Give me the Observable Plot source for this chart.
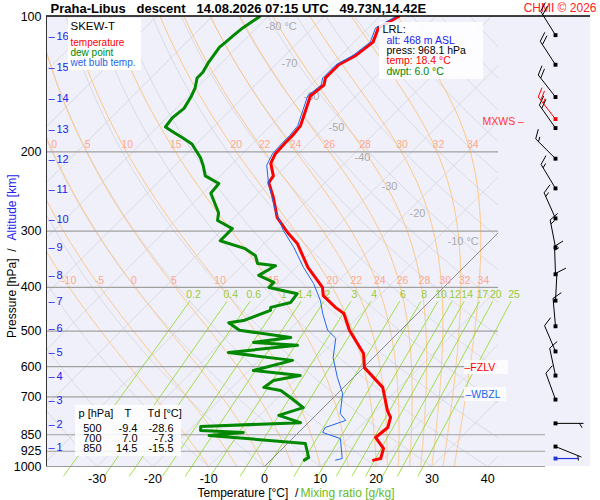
<!DOCTYPE html>
<html><head><meta charset="utf-8">
<script src="https://cdn.jsdelivr.net/npm/d3@7"></script>
<script src="https://cdn.jsdelivr.net/npm/@observablehq/plot@0.6"></script>
<style>body{margin:0;background:#fff}svg{font-family:"Liberation Sans",Arial,sans-serif}</style>
</head><body><div id="c"></div>
<script>
// ---- data ----
const tempP = [100,106,114,122,128,137,142,150,162,175,184,191,202,212,226,234,252,280,302,320,361,400,417,443,457,498,561,603,667,751,778,819,862,912,960,968];
const tempT = [-56.6,-58.2,-56.6,-57.3,-58.7,-58.7,-57.7,-58.2,-56.4,-54.6,-54.3,-54.3,-54.1,-53.2,-50.5,-50.1,-46.7,-42.3,-37.8,-34.0,-27.9,-21.7,-20.1,-15.8,-13.2,-9.2,-2.5,0.2,7.0,12.0,13.8,15.1,14.7,18.1,19.4,18.4];
const wbP = [100,106,114,122,128,137,142,150,162,175,184,191,202,214,235,270,299,326,361,392,428,457,498,519,573,634,688,763,790,819,840,867,960,968];
const wbT = [-57.1,-58.7,-57.1,-57.8,-59.2,-59.2,-58.2,-58.7,-56.9,-55.1,-54.8,-54.8,-54.6,-53.6,-50.0,-43.9,-38.9,-34.0,-28.7,-24.0,-19.7,-17.0,-13.1,-10.2,-7.2,-2.9,0.9,4.1,6.3,3.9,4.3,8.6,12.5,11.6];
const dewP = [100,103,106,110,114,117,122,127,133,137,144,151,160,168,176,181,186,192,206,214,226,235,247,273,284,296,315,328,340,354,358,376,390,400,413,432,443,450,474,479,498,517,530,538,558,581,612,628,644,667,678,706,740,770,799,815,832,840,853,889,955,968];
const dewT = [-81.5,-82.0,-82.5,-82.8,-83.0,-83.2,-82.8,-82.4,-81.7,-81.7,-80.3,-79.4,-78.6,-79.0,-78.6,-76.1,-73.6,-70.8,-66.8,-65.0,-62.7,-58.9,-58.6,-53.7,-52.5,-48.4,-48.4,-42.5,-39.4,-37.6,-34.0,-35.3,-31.3,-31.3,-25.1,-24.7,-27.4,-26.9,-29.9,-32.2,-28.9,-18.4,-24.2,-15.8,-26.9,-14.0,-19.2,-9.9,-13.8,-14.3,-10.7,-7.3,-3.6,-6.6,-1.4,-18.6,-17.9,-9.9,-15.5,3.2,6.3,6.0];
const windP = [110,128,151,177,207,241,281,326,374,428,488,555,628,710,802,903];
const windDir = [328,327,322,325,315,329,336,349,358,3,355,337,348,340,90,112];
const windSpd = [20,20,20,20,15,15,15,15,15,10,10,10,10,10,5,5];
const maxWind = {p:169, dir:322, spd:25};
const sfcWind = {p:960, dir:90, spd:0};
const pTicks = [100,200,300,400,500,600,700,850,925,1000];
const tTicks = [-30,-20,-10,0,10,20,30,40];
const kmLabels = [1,2,3,4,5,6,7,8,9,10,11,12,13,14,15,16];
const kmP = [907,807,713,631,558,494,430,376,326,283,242,208,178,152,130,111];
const mixRatios = [0.2,0.4,0.6,1,1.4,2,3,4,6,8,10,12,14,17,20,25];
const thetaW = [-10,-5,0,5,10,15,20,22,24,26,28,30,32,34];
const thetaWTop = [0,5,10,15,20,22,24,26,28,30,32,34];
const isoLabels = ["-80 °C","-70","-60","-50","-40","-30","-20","-10 °C"];
const tableRows = [["500","-9.4","-28.6"],["700","7.0","-7.3"],["850","14.5","-15.5"]];

// ---- geometry helpers ----
const X0=264, KX=5.58, K=450/5.58;
const skew = (p,t)=> t + K*Math.log10(1000/p);
const pxX = px => (px-X0)/KX;
const pY = py => 1000*Math.pow(10,-(466-py)/450);
const yPx = p => 466-450*Math.log10(1000/p);

const pLevels = d3.range(1050, 99, -5).concat([100]);
const iso = d3.range(-130, 50, 10).flatMap(t => [1050,100].map(p=>({p,x:skew(p,t),id:t})));
const dry = d3.range(-40, 230, 10).flatMap(th => pLevels.map(p=>({p, x:skew(p,(th+273.15)*Math.pow(p/1000,0.286)-273.15), id:th})));
const es = T => 6.112*Math.exp(17.67*(T-273.15)/(T-29.65));
const dTdp=(p,T)=>{const e=es(T), rs=0.622*e/(p-e); return (287*T+2.5e6*rs)/(p*(1005+2.5e6*2.5e6*rs*0.622/(287*T*T)));};
function moist(tw){
  const out=[]; let T=tw+273.15;
  for(let p=1000;p>=100;p-=2){ out.push({p,x:skew(p,T-273.15),id:tw});
    const h=-2, k1=dTdp(p,T), k2=dTdp(p+h/2,T+h/2*k1); T+=h*k2; }
  let T2=tw+273.15;
  for(let p=1000;p<=1050;p+=2){ out.unshift({p,x:skew(p,T2-273.15),id:tw}); T2+=2*dTdp(p,T2); }
  return out;
}
const moistLines = thetaW.flatMap(moist);
const tdOf = (w,p)=>{const e=w*p/(622+w); const l=Math.log(e/6.112); return 243.5*l/(17.67-l);};
const mixLines = mixRatios.flatMap(w => [1050,430].map(p=>({p,x:skew(p,tdOf(w,p)),id:w})));
const moistAt = (tw,p)=>{const c=moistLines.filter(d=>d.id===tw); return c.reduce((a,b)=>Math.abs(b.p-p)<Math.abs(a.p-p)?b:a).x;};
const prof = (P,T)=>P.map((p,i)=>({p,x:skew(p,T[i])}));

function barb(p,dir,spd){
  const bx=555, by=yPx(p), a=dir*Math.PI/180, ux=Math.sin(a), uy=-Math.cos(a), L=28;
  const ex=bx+L*ux, ey=by+L*uy, segs=[[bx,by,ex,ey]];
  const px=-uy, py=ux; let rem=spd, pos=0;
  const bdx=px*0.87+ux*0.5, bdy=py*0.87+uy*0.5;
  while(rem>=10){const sx=ex-ux*pos, sy=ey-uy*pos; segs.push([sx,sy,sx+10*bdx,sy+10*bdy]); rem-=10; pos+=4;}
  if(rem>=5){ if(pos===0) pos=4; const sx=ex-ux*pos, sy=ey-uy*pos; segs.push([sx,sy,sx+5*bdx,sy+5*bdy]); }
  return segs.map(s=>({x1:pxX(s[0]),y1:pY(s[1]),x2:pxX(s[2]),y2:pY(s[3])}));
}
const barbs = windP.flatMap((p,i)=>barb(p,windDir[i],windSpd[i]));
const barbMax = barb(maxWind.p,maxWind.dir,maxWind.spd);
const sfcSeg = [{x1:pxX(555),y1:sfcWind.p,x2:pxX(578),y2:sfcWind.p}];

const F = "Liberation Sans, Arial, sans-serif";
const T = (x,y,text,o={}) => Plot.text([0],{x:()=>pxX(x),y:()=>pY(y),text:()=>text,fontSize:11,fontFamily:F,textAnchor:"start",clip:false,...o});
const box = (x1,y1,x2,y2,o={}) => Plot.rect([0],{x1:()=>pxX(x1),x2:()=>pxX(x2),y1:()=>pY(y1),y2:()=>pY(y2),fill:"white",clip:false,...o});
const isoPx = [[265,26],[281,63],[303,96],[328,127],[354,157],[381,186],[409,213],[447,241]];

const chart = Plot.plot({
  width:600, height:500, marginLeft:46, marginRight:102, marginTop:16, marginBottom:34,
  x:{domain:[pxX(46),pxX(498)], axis:null},
  y:{type:"log", domain:[1000,100], axis:null},
  marks:[
    box(46,16,590,466,{fill:"#f0f0fa"}),
    Plot.line(iso,{x:"x",y:"p",z:"id",stroke:"#d4d4dc",strokeWidth:0.8,clip:true}),
    Plot.line(dry,{x:"x",y:"p",z:"id",stroke:"#d4d4dc",strokeWidth:0.8,clip:true}),
    Plot.line(moistLines,{x:"x",y:"p",z:"id",stroke:"#ffc680",strokeWidth:1,clip:true}),
    Plot.line(mixLines,{x:"x",y:"p",z:"id",stroke:"#99dd33",strokeWidth:0.9,clip:false}),
    Plot.line([{p:1050,x:skew(1050,0)},{p:100,x:skew(100,0)}],{x:"x",y:"p",stroke:"#777",strokeWidth:0.8,clip:true}),
    Plot.ruleY(pTicks.filter(p=>p<850&&p>100),{x1:pxX(46),x2:pxX(498),y:d=>d,stroke:"#a0a0a0",strokeWidth:1.2,clip:false}),
    Plot.ruleY(pTicks.filter(p=>p>=850),{x1:pxX(46),x2:pxX(545),y:d=>d,stroke:"#a0a0a0",strokeWidth:1.2,clip:false}),
    Plot.text(thetaW,{x:d=>moistAt(d,386),y:()=>386,dx:4,text:d=>String(d),fill:"#ffa888",fontSize:10.5,fontFamily:F,clip:false}),
    Plot.text(thetaWTop,{x:d=>moistAt(d,193),y:()=>193,dx:4,text:d=>String(d),fill:"#ffa888",fontSize:10.5,fontFamily:F,clip:false}),
    Plot.text(mixRatios,{x:d=>skew(418,tdOf(d,418)),y:()=>415,text:d=>String(d),fill:"#99cc33",fontSize:10.5,fontFamily:F,clip:false}),
    Plot.text(isoLabels,{x:(d,i)=>pxX(isoPx[i][0]),y:(d,i)=>pY(isoPx[i][1]),text:d=>d,textAnchor:"start",fill:"#aaaaaa",fontSize:11,fontFamily:F,clip:false}),
    Plot.line(prof(dewP,dewT),{x:"x",y:"p",stroke:"#008800",strokeWidth:3,clip:true}),
    Plot.line(prof(tempP,tempT),{x:"x",y:"p",stroke:"#ff0000",strokeWidth:3,clip:true}),
    Plot.line(prof(wbP,wbT),{x:"x",y:"p",stroke:"#2266ee",strokeWidth:1,clip:true}),
    Plot.ruleY([pY(15.5)],{x1:pxX(46),x2:pxX(590),stroke:"black",strokeWidth:1.3,clip:false}),
    Plot.ruleX([pxX(46)],{y1:pY(15.5),y2:1000,stroke:"#333",strokeWidth:1,clip:false}),
    Plot.ruleY([1000],{x1:pxX(46),x2:pxX(498),stroke:"#999",strokeWidth:1.2,clip:false}),
    Plot.text(pTicks,{x:()=>pxX(41),y:d=>d,text:d=>String(d),textAnchor:"end",fontSize:12.5,fontFamily:F,clip:false}),
    Plot.text(tTicks,{x:d=>d,y:()=>pY(478),text:d=>String(d),fontSize:12.5,fontFamily:F,clip:false}),
    Plot.text(kmLabels,{x:()=>pxX(48),y:kmP,text:()=>"\u2013",textAnchor:"start",fill:"#2222ee",fontSize:11,fontFamily:F,clip:false}),
    Plot.text(kmLabels,{x:()=>pxX(56),y:kmP,text:d=>String(d),textAnchor:"start",fill:"#2222ee",fontSize:11,fontFamily:F,clip:false}),
    T(197,493,"Temperature [°C]  /",{fontSize:12}),
    T(300,493,"Mixing ratio [g/kg]",{fontSize:12,fill:"#66bb22"}),
    T(12,248,"Pressure [hPa]  /",{fontSize:12,rotate:-90,textAnchor:"end",lineAnchor:"middle"}),
    T(12,240,"Altitude [km]",{fontSize:12,rotate:-90,textAnchor:"start",lineAnchor:"middle",fill:"#2222ee"}),
    T(50,8,"Praha-Libus   descent   14.08.2026 07:15 UTC   49.73N,14.42E",{fontSize:13,fontWeight:"bold"}),
    T(596,8,"CHMI © 2026",{fontSize:12,fill:"#ff2020",textAnchor:"end"}),
    box(68,18,141,70),
    T(70,26,"SKEW-T",{fontSize:11.5}),
    T(70,42,"temperature",{fill:"#ff0000",fontSize:10}),
    T(70,52,"dew point",{fill:"#008800",fontSize:10}),
    T(70,62,"wet bulb temp.",{fill:"#2266ee",fontSize:10}),
    box(379,22,483,79,{fillOpacity:0.85}),
    T(382,29,"LRL:",{fontSize:11}),
    T(386,40,"alt: 468 m ASL",{fill:"#2222ee",fontSize:10.5}),
    T(386,50,"press: 968.1 hPa",{fontSize:10.5}),
    T(386,60,"temp: 18.4 °C",{fill:"#ff0000",fontSize:10.5}),
    T(386,71,"dwpt: 6.0 °C",{fill:"#008800",fontSize:10.5}),
    box(75,405,181,456,{fillOpacity:0.85}),
    T(78,413,"p [hPa]",{fontSize:11}),T(124,413,"T",{fontSize:11}),T(147,413,"Td [°C]",{fontSize:11}),
    Plot.text(tableRows,{x:()=>pxX(101),y:(d,i)=>pY(428+i*10),text:d=>d[0],textAnchor:"end",fontSize:11,fontFamily:F,clip:false}),
    Plot.text(tableRows,{x:()=>pxX(137),y:(d,i)=>pY(428+i*10),text:d=>d[1],textAnchor:"end",fontSize:11,fontFamily:F,clip:false}),
    Plot.text(tableRows,{x:()=>pxX(173),y:(d,i)=>pY(428+i*10),text:d=>d[2],textAnchor:"end",fontSize:11,fontFamily:F,clip:false}),
    T(482,121,"MXWS \u2013",{fill:"#ff3333",fontSize:10.5}),
    box(464,360,508,374,{fillOpacity:0.8}),
    T(464,367,"\u2013FZLV",{fill:"#ff0000",fontSize:10.5}),
    box(464,387,506,401,{fillOpacity:0.8}),
    T(465,394,"\u2013WBZL",{fill:"#2266ee",fontSize:10.5}),
    Plot.link(barbs,{x1:"x1",y1:"y1",x2:"x2",y2:"y2",stroke:"black",strokeWidth:1,clip:false}),
    Plot.link(barbMax,{x1:"x1",y1:"y1",x2:"x2",y2:"y2",stroke:"red",strokeWidth:1,clip:false}),
    Plot.dot(windP,{x:()=>pxX(555),y:d=>d,r:2.2,symbol:"square",fill:"black",clip:false}),
    Plot.dot([maxWind.p],{x:()=>pxX(555),y:d=>d,r:2.2,symbol:"square",fill:"red",clip:false}),
    Plot.link(sfcSeg,{x1:"x1",y1:"y1",x2:"x2",y2:"y2",stroke:"#2233dd",strokeWidth:1.2,clip:false}),
    Plot.dot([sfcWind.p],{x:()=>pxX(555),y:d=>d,r:2.2,symbol:"square",fill:"#2233dd",clip:false})
  ]
});
document.getElementById("c").appendChild(chart);
</script></body></html>
